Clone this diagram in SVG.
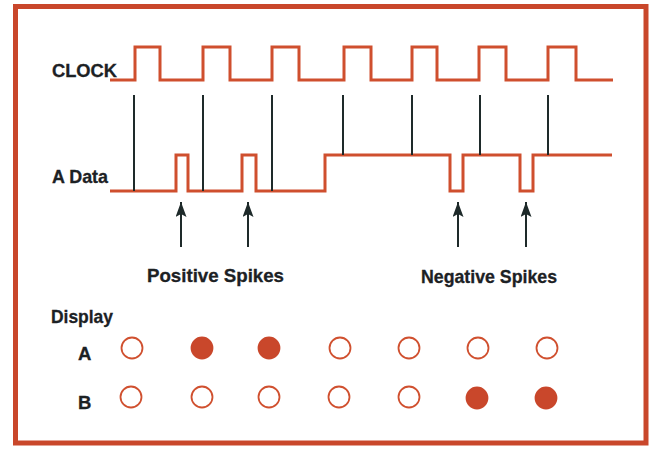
<svg xmlns="http://www.w3.org/2000/svg" width="652" height="449" viewBox="0 0 652 449">
<defs>
<style>
.frame{fill:none;stroke:#c9472b;stroke-width:5}
.wave{fill:none;stroke:#cf4f2e;stroke-width:3;stroke-linejoin:miter}
.tick{stroke:#1e2a2a;stroke-width:2}
.lbl{font-family:"Liberation Sans",Arial,sans-serif;font-weight:bold;font-size:18.5px;fill:#1c2124;stroke:#1c2124;stroke-width:0.3}
.dot{fill:none;stroke:#d0502f;stroke-width:1.8}
.full{fill:#c9472b;stroke:#c9472b;stroke-width:1.8}
</style>
<marker id="ah" markerWidth="15" markerHeight="11" refX="15" refY="5.5" orient="auto" markerUnits="userSpaceOnUse" viewBox="0 0 15 11">
<path d="M15,5.5 L0,0 L3,5.5 L0,11 Z" fill="#1e2a2a"/>
</marker>
</defs>
<rect width="652" height="449" fill="#ffffff"/>
<rect class="frame" x="15.5" y="6.5" width="630.5" height="436.5"/>
<g id="clock">
<text class="lbl" x="52" y="77" textLength="65" lengthAdjust="spacingAndGlyphs">CLOCK</text>
<path class="wave" d="M110,80 H135 V47 H160 V80 H203 V47 H230 V80 H272 V47 H299 V80 H344 V47 H371 V80 H412 V47 H437 V80 H479 V47 H506 V80 H548 V47 H576 V80 H613"/>
</g>
<g id="adata">
<text class="lbl" x="52" y="183" textLength="56" lengthAdjust="spacingAndGlyphs">A Data</text>
<path class="wave" d="M110,191 H176 V155 H188 V191 H242 V155 H256 V191 H325 V155 H450 V191 H463 V155 H520 V191 H533 V155 H612"/>
</g>
<g id="connectors">
<line class="tick" x1="134" y1="95" x2="134" y2="191"/>
<line class="tick" x1="203" y1="95" x2="203" y2="191"/>
<line class="tick" x1="272" y1="95" x2="272" y2="191"/>
<line class="tick" x1="343" y1="95" x2="343" y2="155"/>
<line class="tick" x1="412" y1="95" x2="412" y2="155"/>
<line class="tick" x1="480" y1="95" x2="480" y2="155"/>
<line class="tick" x1="548" y1="95" x2="548" y2="155"/>
<line class="tick" x1="181" y1="247" x2="181" y2="202" marker-end="url(#ah)"/>
<line class="tick" x1="248" y1="247" x2="248" y2="202" marker-end="url(#ah)"/>
<line class="tick" x1="458" y1="247" x2="458" y2="202" marker-end="url(#ah)"/>
<line class="tick" x1="526" y1="247" x2="526" y2="202" marker-end="url(#ah)"/>
</g>
<g id="pos-label"><text class="lbl" x="147" y="282" textLength="137" lengthAdjust="spacingAndGlyphs">Positive Spikes</text></g>
<g id="neg-label"><text class="lbl" x="421" y="283" textLength="136" lengthAdjust="spacingAndGlyphs">Negative Spikes</text></g>
<g id="display">
<text class="lbl" x="51" y="323" textLength="62" lengthAdjust="spacingAndGlyphs">Display</text>
<text class="lbl" x="78" y="360">A</text>
<text class="lbl" x="78" y="409">B</text>
</g>
<g id="row-a">
<circle class="dot" cx="132" cy="348" r="10.5"/>
<circle class="full" cx="202" cy="348" r="10.5"/>
<circle class="full" cx="269" cy="348" r="10.5"/>
<circle class="dot" cx="340" cy="348" r="10.5"/>
<circle class="dot" cx="409" cy="348" r="10.5"/>
<circle class="dot" cx="478" cy="348" r="10.5"/>
<circle class="dot" cx="547" cy="348" r="10.5"/>
</g>
<g id="row-b">
<circle class="dot" cx="131" cy="397" r="10.5"/>
<circle class="dot" cx="202" cy="397" r="10.5"/>
<circle class="dot" cx="269" cy="397" r="10.5"/>
<circle class="dot" cx="339" cy="397" r="10.5"/>
<circle class="dot" cx="409" cy="397" r="10.5"/>
<circle class="full" cx="477" cy="398" r="10.5"/>
<circle class="full" cx="546" cy="398" r="10.5"/>
</g>
</svg>
